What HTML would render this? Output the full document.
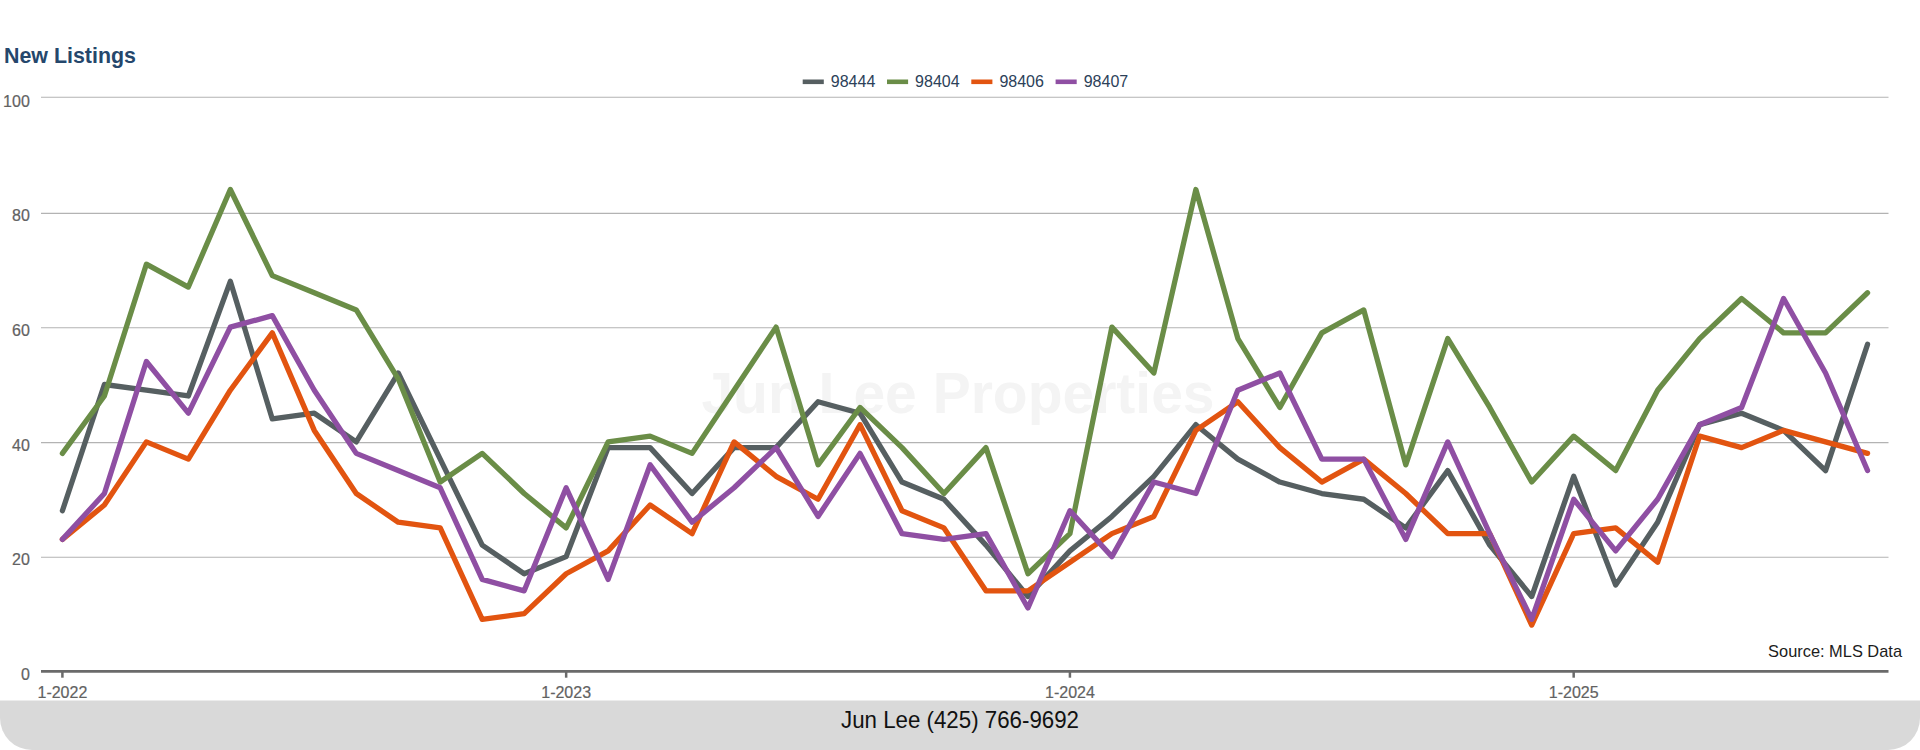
<!DOCTYPE html>
<html><head><meta charset="utf-8"><style>
html,body{margin:0;padding:0;background:#fff;width:1920px;height:750px;overflow:hidden}
svg{display:block}
text{font-family:"Liberation Sans",sans-serif}
.ax{font-size:16px;fill:#626262;stroke:#626262;stroke-width:0.2px}
.lg{font-size:16px;fill:#2c4159}
.title{font-size:21.4px;font-weight:bold;fill:#25476c}
.wm{font-size:57px;font-weight:bold;fill:#f4f4f4}
.src{font-size:16.4px;fill:#1c1c1c}
.ft{font-size:23.4px;fill:#111}
</style></head><body>
<svg width="1920" height="750" viewBox="0 0 1920 750">
<line x1="41.0" y1="557.30" x2="1888.5" y2="557.30" stroke="#b3b3b3" stroke-width="1.1"/>
<line x1="41.0" y1="442.60" x2="1888.5" y2="442.60" stroke="#b3b3b3" stroke-width="1.1"/>
<line x1="41.0" y1="327.80" x2="1888.5" y2="327.80" stroke="#b3b3b3" stroke-width="1.1"/>
<line x1="41.0" y1="213.40" x2="1888.5" y2="213.40" stroke="#b3b3b3" stroke-width="1.1"/>
<line x1="41.0" y1="97.30" x2="1888.5" y2="97.30" stroke="#b3b3b3" stroke-width="1.1"/>
<text x="29.8" y="679.90" text-anchor="end" class="ax">0</text>
<text x="29.8" y="565.28" text-anchor="end" class="ax">20</text>
<text x="29.8" y="450.66" text-anchor="end" class="ax">40</text>
<text x="29.8" y="336.04" text-anchor="end" class="ax">60</text>
<text x="29.8" y="221.42" text-anchor="end" class="ax">80</text>
<text x="29.8" y="106.80" text-anchor="end" class="ax">100</text>
<text x="958" y="413" text-anchor="middle" class="wm">Jun Lee Properties</text>
<path d="M62.40 510.72 L104.38 384.50 L146.36 390.24 L188.34 395.98 L230.32 281.34 L272.30 418.94 L314.28 413.20 L356.26 441.90 L398.24 373.02 L440.22 459.11 L482.20 545.13 L524.18 573.71 L566.16 556.60 L608.14 447.64 L650.12 447.64 L692.10 493.51 L734.08 447.64 L776.06 447.64 L818.04 401.72 L860.02 413.20 L902.00 482.05 L943.98 499.25 L985.96 545.13 L1027.94 596.53 L1069.92 550.86 L1111.90 516.45 L1153.88 476.31 L1195.86 424.68 L1237.84 459.11 L1279.82 482.05 L1321.80 493.51 L1363.78 499.25 L1405.76 527.92 L1447.74 470.57 L1489.72 545.13 L1531.70 596.53 L1573.68 476.31 L1615.66 585.12 L1657.64 522.19 L1699.62 424.68 L1741.60 413.20 L1783.58 430.42 L1825.56 470.57 L1867.54 344.32" fill="none" stroke="#565f61" stroke-width="5.30" stroke-linejoin="round" stroke-linecap="round"/>
<path d="M62.40 453.37 L104.38 395.98 L146.36 264.18 L188.34 287.06 L230.32 189.48 L272.30 275.62 L314.28 292.78 L356.26 309.94 L398.24 378.76 L440.22 482.05 L482.20 453.37 L524.18 493.51 L566.16 527.92 L608.14 441.90 L650.12 436.16 L692.10 453.37 L734.08 390.24 L776.06 327.10 L818.04 464.84 L860.02 407.46 L902.00 447.64 L943.98 493.51 L985.96 447.64 L1027.94 573.71 L1069.92 533.66 L1111.90 327.10 L1153.88 373.02 L1195.86 189.48 L1237.84 338.58 L1279.82 407.46 L1321.80 332.84 L1363.78 309.94 L1405.76 464.84 L1447.74 338.58 L1489.72 407.46 L1531.70 482.05 L1573.68 436.16 L1615.66 470.57 L1657.64 390.24 L1699.62 338.58 L1741.60 298.50 L1783.58 332.84 L1825.56 332.84 L1867.54 292.78" fill="none" stroke="#6a8d47" stroke-width="5.30" stroke-linejoin="round" stroke-linecap="round"/>
<path d="M62.40 539.39 L104.38 504.99 L146.36 441.90 L188.34 459.11 L230.32 390.24 L272.30 332.84 L314.28 430.42 L356.26 493.51 L398.24 522.19 L440.22 527.92 L482.20 619.35 L524.18 613.65 L566.16 573.71 L608.14 550.86 L650.12 504.99 L692.10 533.66 L734.08 441.90 L776.06 476.31 L818.04 499.25 L860.02 424.68 L902.00 510.72 L943.98 527.92 L985.96 590.83 L1027.94 590.83 L1069.92 562.30 L1111.90 533.66 L1153.88 516.45 L1195.86 430.42 L1237.84 401.72 L1279.82 447.64 L1321.80 482.05 L1363.78 459.11 L1405.76 493.51 L1447.74 533.66 L1489.72 533.66 L1531.70 625.06 L1573.68 533.66 L1615.66 527.92 L1657.64 562.30 L1699.62 436.16 L1741.60 447.64 L1783.58 430.42 L1825.56 441.90 L1867.54 453.37" fill="none" stroke="#e25410" stroke-width="5.30" stroke-linejoin="round" stroke-linecap="round"/>
<path d="M62.40 539.39 L104.38 493.51 L146.36 361.54 L188.34 413.20 L230.32 327.10 L272.30 315.66 L314.28 390.24 L356.26 453.37 L398.24 470.57 L440.22 487.78 L482.20 579.42 L524.18 590.83 L566.16 487.78 L608.14 579.42 L650.12 464.84 L692.10 522.19 L734.08 487.78 L776.06 447.64 L818.04 516.45 L860.02 453.37 L902.00 533.66 L943.98 539.39 L985.96 533.66 L1027.94 607.94 L1069.92 510.72 L1111.90 556.60 L1153.88 482.05 L1195.86 493.51 L1237.84 390.24 L1279.82 373.02 L1321.80 459.11 L1363.78 459.11 L1405.76 539.39 L1447.74 441.90 L1489.72 533.66 L1531.70 619.35 L1573.68 499.25 L1615.66 550.86 L1657.64 499.25 L1699.62 424.68 L1741.60 407.46 L1783.58 298.50 L1825.56 373.02 L1867.54 470.57" fill="none" stroke="#8f4fa3" stroke-width="5.30" stroke-linejoin="round" stroke-linecap="round"/>
<line x1="41.0" y1="671.40" x2="1888.5" y2="671.40" stroke="#6a6a6a" stroke-width="2.8"/>
<line x1="62.40" y1="671.40" x2="62.40" y2="677.7" stroke="#6a6a6a" stroke-width="2.5"/>
<text x="62.40" y="698.1" text-anchor="middle" class="ax">1-2022</text>
<line x1="566.16" y1="671.40" x2="566.16" y2="677.7" stroke="#6a6a6a" stroke-width="2.5"/>
<text x="566.16" y="698.1" text-anchor="middle" class="ax">1-2023</text>
<line x1="1069.92" y1="671.40" x2="1069.92" y2="677.7" stroke="#6a6a6a" stroke-width="2.5"/>
<text x="1069.92" y="698.1" text-anchor="middle" class="ax">1-2024</text>
<line x1="1573.68" y1="671.40" x2="1573.68" y2="677.7" stroke="#6a6a6a" stroke-width="2.5"/>
<text x="1573.68" y="698.1" text-anchor="middle" class="ax">1-2025</text>
<rect x="802.7" y="79.5" width="21.1" height="4.6" fill="#565f61"/>
<text x="830.8" y="87" class="lg">98444</text>
<rect x="887.0" y="79.5" width="21.1" height="4.6" fill="#6a8d47"/>
<text x="915.1" y="87" class="lg">98404</text>
<rect x="971.3" y="79.5" width="21.1" height="4.6" fill="#e25410"/>
<text x="999.4" y="87" class="lg">98406</text>
<rect x="1055.6" y="79.5" width="21.1" height="4.6" fill="#8f4fa3"/>
<text x="1083.7" y="87" class="lg">98407</text>
<text x="4.0" y="62.6" class="title">New Listings</text>
<text x="1902" y="657.3" text-anchor="end" class="src">Source: MLS Data</text>
<path d="M0 700.5 H1920 V718 A32 32 0 0 1 1888 750 H32 A32 32 0 0 1 0 718 Z" fill="#d9d9d9"/>
<text x="841" y="728.2" textLength="238" lengthAdjust="spacingAndGlyphs" class="ft">Jun Lee (425) 766-9692</text>
</svg>
</body></html>
